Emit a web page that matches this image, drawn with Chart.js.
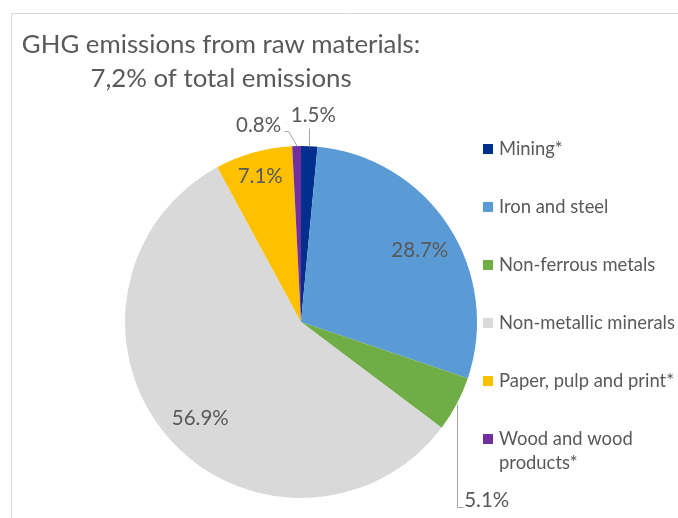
<!DOCTYPE html>
<html>
<head>
<meta charset="utf-8">
<script src="https://cdn.jsdelivr.net/npm/chart.js@4/dist/chart.umd.min.js"></script>
<style>
  html, body { margin: 0; padding: 0; background: #fff; }
  canvas { display: block; }
</style>
</head>
<body>
<canvas id="grafico" width="678" height="518"></canvas>
<script>
const titulo = ["GHG emissions from raw materials:", "7,2% of total emissions"];
const setores = [
  "Mining*",
  "Iron and steel",
  "Non-ferrous metals",
  "Non-metallic minerals",
  "Paper, pulp and print*",
  "Wood and wood products*",
];
// quebra de linha da legenda para o último setor
const linhasLegenda = [
  ["Mining*"],
  ["Iron and steel"],
  ["Non-ferrous metals"],
  ["Non-metallic minerals"],
  ["Paper, pulp and print*"],
  ["Wood and wood", "products*"],
];
const participacao = [1.5, 28.7, 5.1, 56.9, 7.1, 0.8];
const cores = ["#002f8e", "#5b9bd5", "#70ad47", "#d9d9d9", "#ffc000", "#7030a0"];

const corTexto = "#595959";
const fonte = "Lato";

// rótulos: dentro da fatia (raio relativo) ou fora, com linha guia
const posRotulos = [
  { dx: 4, dy: -31, guia: [[0, 0], [0, -18]] },
  { raio: 0.79, desvio: 0.03 },
  { dx: 30, dy: 96, guia: [[0, 0], [0, 103], [6, 103]] },
  { raio: 0.79, desvio: -0.05 },
  { raio: 0.86 },
  { dx: -38, dy: -21, guia: [[0, 0], [-9, -15], [-13, -15]] },
];

const moldura = {
  id: "moldura",
  beforeDraw(chart) {
    const ctx = chart.ctx;
    ctx.save();
    ctx.strokeStyle = "#d9d9d9";
    ctx.lineWidth = 1;
    ctx.beginPath();
    ctx.moveTo(11.5, chart.height);
    ctx.lineTo(11.5, 13.5);
    ctx.lineTo(chart.width, 13.5);
    ctx.stroke();
    ctx.restore();
  },
};

const textos = {
  id: "textos",
  afterDraw(chart) {
    const ctx = chart.ctx;
    ctx.save();
    ctx.fillStyle = corTexto;

    // título em duas linhas
    ctx.font = `25.8px "${fonte}"`;
    ctx.textAlign = "center";
    ctx.textBaseline = "alphabetic";
    titulo.forEach((t, i) => ctx.fillText(t, 221, 53 + i * 34));

    // legenda
    ctx.textAlign = "left";
    ctx.font = `18.4px "${fonte}"`;
    linhasLegenda.forEach((linhas, i) => {
      const y = 155 + i * 58;
      ctx.fillStyle = cores[i];
      ctx.fillRect(483, y - 11, 10, 10);
      ctx.fillStyle = corTexto;
      linhas.forEach((l, j) => ctx.fillText(l, 499, y + j * 24));
    });

    // rótulos de dados
    ctx.font = `20.5px "${fonte}"`;
    ctx.textAlign = "center";
    const arcos = chart.getDatasetMeta(0).data;
    arcos.forEach((arco, i) => {
      const { x, y, startAngle, endAngle, outerRadius } = arco.getProps(
        ["x", "y", "startAngle", "endAngle", "outerRadius"],
        true
      );
      const pos = posRotulos[i];
      const meio = (startAngle + endAngle) / 2 + (pos.desvio || 0);
      const texto = participacao[i].toFixed(1) + "%";
      let cx, cy;
      if (pos.raio) {
        cx = x + Math.cos(meio) * outerRadius * pos.raio;
        cy = y + Math.sin(meio) * outerRadius * pos.raio;
      } else {
        const ax = x + Math.cos(meio) * outerRadius;
        const ay = y + Math.sin(meio) * outerRadius;
        cx = ax + pos.dx;
        cy = ay + pos.dy;
        ctx.strokeStyle = "#a6a6a6";
        ctx.lineWidth = 1;
        ctx.beginPath();
        pos.guia.forEach(([gx, gy], k) => {
          const px = Math.round(ax + gx) + 0.5;
          const py = Math.round(ay + gy) + 0.5;
          k ? ctx.lineTo(px, py) : ctx.moveTo(px, py);
        });
        ctx.stroke();
      }
      ctx.fillText(texto, cx, cy + 7);
    });
    ctx.restore();
  },
};

new Chart(document.getElementById("grafico"), {
  type: "pie",
  data: {
    labels: setores,
    datasets: [
      {
        data: participacao,
        backgroundColor: cores,
        borderWidth: 0,
      },
    ],
  },
  options: {
    responsive: false,
    animation: false,
    devicePixelRatio: 1,
    layout: { padding: { left: 125, right: 201, top: 146, bottom: 20 } },
    plugins: {
      legend: { display: false },
      title: { display: false },
      tooltip: { enabled: false },
    },
  },
  plugins: [moldura, textos],
});
</script>
</body>
</html>
